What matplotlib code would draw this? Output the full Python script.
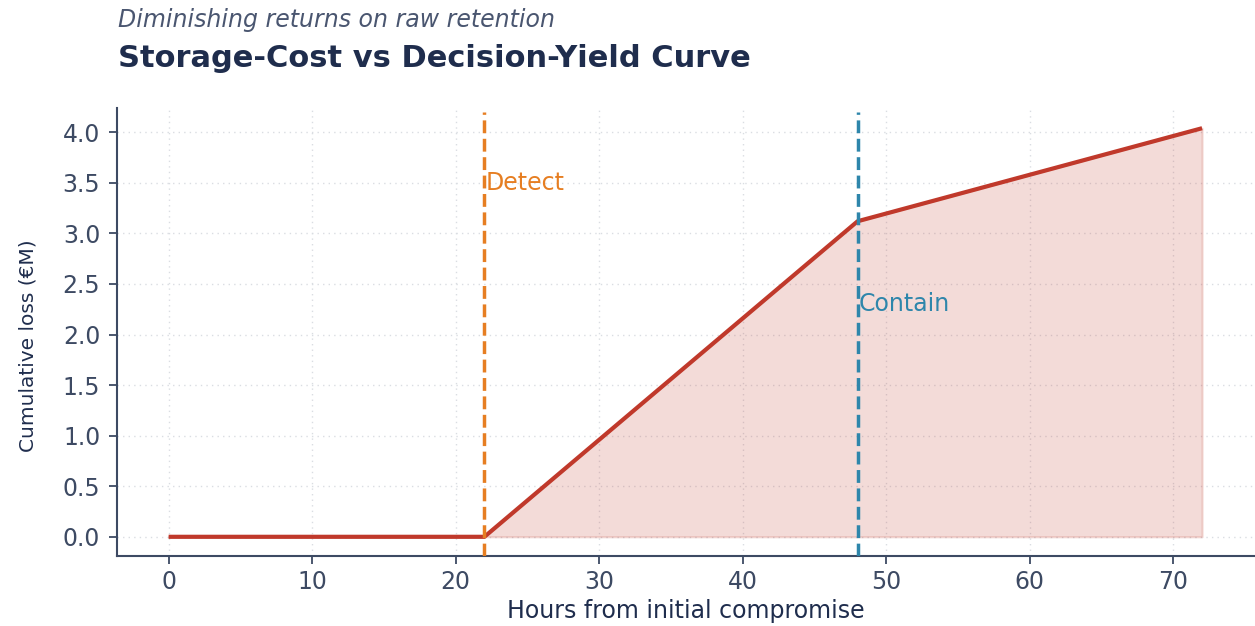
import matplotlib
matplotlib.use("Agg")
import matplotlib.pyplot as plt

# breakpoints of the cumulative loss curve
hours = [0, 22, 48, 72]
loss_m = [0.0, 0.0, 3.12, 4.04]

# phase markers
phase_names = ["Detect", "Contain"]
phase_hours = [22, 48]
phase_label_y = [3.5, 2.3]
phase_colors = ["#e67e22", "#2e86ab"]

x_ticks = [0, 10, 20, 30, 40, 50, 60, 70]
y_ticks = [0.0, 0.5, 1.0, 1.5, 2.0, 2.5, 3.0, 3.5, 4.0]

navy = "#1f2d4d"
slate = "#3d4a63"
red = "#c0392b"

fig = plt.figure(figsize=(12.55, 6.26), dpi=100)
ax = fig.add_axes([0.0932, 0.1118, 0.9058, 0.7157])

ax.fill_between(hours, loss_m, 0, color=red, alpha=0.18, lw=1.5)
ax.plot(hours, loss_m, color=red, lw=3, solid_capstyle="butt", zorder=3)

for name, h, ty, c in zip(phase_names, phase_hours, phase_label_y, phase_colors):
    ax.axvline(h, ymax=0.99, color=c, ls="--", lw=2.5, zorder=4)
    ax.text(h + 0.1, ty, name, color=c, fontsize=17, va="center", ha="left")

ax.set_xlim(-3.6, 75.6)
ax.set_ylim(-0.19, 4.24)
ax.set_xticks(x_ticks)
ax.set_yticks(y_ticks)
ax.set_yticklabels([f"{v:.1f}" for v in y_ticks])

ax.grid(True, ls=(0, (1, 3)), color="#dadde2", lw=1)
ax.set_axisbelow(True)
for side in ["top", "right"]:
    ax.spines[side].set_visible(False)
for side in ["left", "bottom"]:
    ax.spines[side].set_color(slate)
    ax.spines[side].set_linewidth(1.5)
ax.tick_params(colors=slate, labelsize=17, length=6, width=1.3, pad=6)
ax.tick_params(axis="x", pad=4)

ax.set_xlabel("Hours from initial compromise", fontsize=17, color=navy, labelpad=4)
ax.set_ylabel("Cumulative loss (€M)", fontsize=14.5, color=navy)
ax.yaxis.set_label_coords(-0.07, 0.47)

fig.text(0.094, 0.968, "Diminishing returns on raw retention", fontsize=17,
         style="italic", color="#4a5670", va="center")
fig.text(0.094, 0.907, "Storage-Cost vs Decision-Yield Curve", fontsize=22,
         weight="bold", color=navy, va="center")

fig.savefig("out.png", dpi=100)
